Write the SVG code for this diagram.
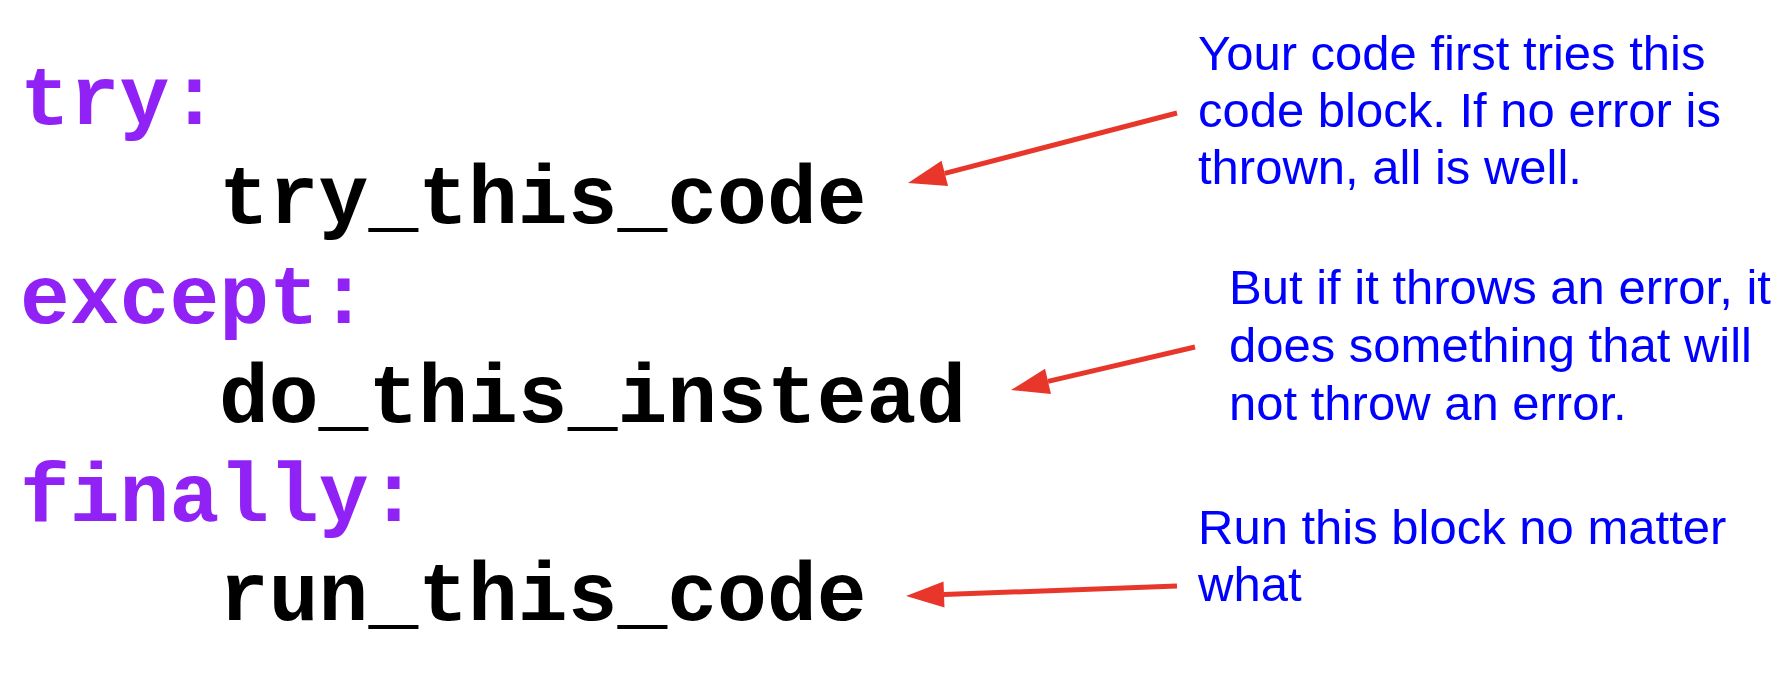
<svg xmlns="http://www.w3.org/2000/svg" width="1786" height="696" viewBox="0 0 1786 696">
<style>
.kw{font-family:"Liberation Mono","Courier New",monospace;font-weight:bold;font-size:83px;fill:#9122f5}
.code{font-family:"Liberation Mono","Courier New",monospace;font-weight:bold;font-size:83px;fill:#000}
.note{font-family:"Liberation Sans",Arial,sans-serif;font-size:49px;fill:#0000ff}
.arrow{stroke:#e8372a;stroke-width:5;fill:none;marker-end:url(#head)}
</style>
<defs>
<marker id="head" markerUnits="userSpaceOnUse" markerWidth="40" markerHeight="28" refX="0" refY="13" orient="auto" overflow="visible">
<path d="M0,0 L38,13 L0,26 z" fill="#e8372a"/>
</marker>
</defs>
<rect width="1786" height="696" fill="#fff"/>
<g id="code">
<g id="try"><text class="kw" x="20" y="124">try:</text></g>
<g id="try_body"><text class="code" x="219" y="223">try_this_code</text></g>
<g id="except"><text class="kw" x="20" y="323">except:</text></g>
<g id="except_body"><text class="code" x="219" y="422">do_this_instead</text></g>
<g id="finally"><text class="kw" x="20" y="521">finally:</text></g>
<g id="finally_body"><text class="code" x="219" y="620">run_this_code</text></g>
</g>
<g id="note_try">
<text class="note" x="1198" y="70">Your code first tries this</text>
<text class="note" x="1198" y="127">code block. If no error is</text>
<text class="note" x="1198" y="184">thrown, all is well.</text>
</g>
<g id="note_except">
<text class="note" x="1229" y="304">But if it throws an error, it</text>
<text class="note" x="1229" y="362">does something that will</text>
<text class="note" x="1229" y="420">not throw an error.</text>
</g>
<g id="note_finally">
<text class="note" x="1198" y="544">Run this block no matter</text>
<text class="note" x="1198" y="601">what</text>
</g>
<g id="connectors">
<line class="arrow" x1="1177" y1="113" x2="944.8" y2="173.4"/>
<line class="arrow" x1="1195" y1="347" x2="1048" y2="381.4"/>
<line class="arrow" x1="1177" y1="586" x2="944" y2="594.6"/>
</g>
</svg>
